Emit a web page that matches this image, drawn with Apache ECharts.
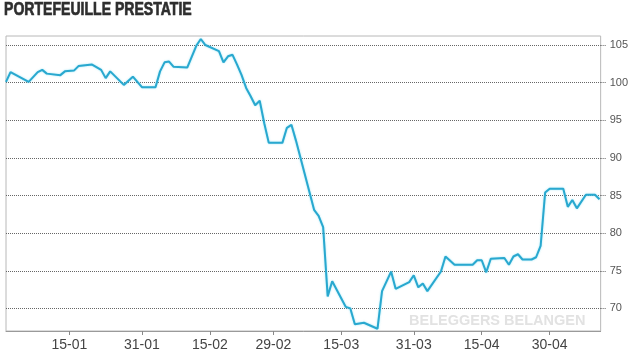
<!DOCTYPE html>
<html>
<head>
    <meta charset="utf-8">
    <title>Portefeuille prestatie</title>
    <script src="https://cdn.jsdelivr.net/npm/echarts@6/dist/echarts.min.js"></script>
    <style type="text/css">
        body{
            margin: 0;
            background: #fff;
        }
        #main{
            width: 631px;
            height: 355px;
        }
    </style>
</head>
<body>
<div id="main"></div>
<script>
    // turning points of the line
    var dates = [
        '2020-01-01','2020-01-02','2020-01-06','2020-01-08','2020-01-09','2020-01-10','2020-01-13','2020-01-14',
        '2020-01-16','2020-01-17','2020-01-20','2020-01-22','2020-01-23','2020-01-24','2020-01-27','2020-01-29',
        '2020-01-31','2020-02-03','2020-02-04','2020-02-05','2020-02-06','2020-02-07','2020-02-10','2020-02-12',
        '2020-02-13','2020-02-14','2020-02-17','2020-02-18','2020-02-19','2020-02-20','2020-02-21','2020-02-22',
        '2020-02-23','2020-02-24','2020-02-25','2020-02-26','2020-02-27','2020-02-28','2020-03-02','2020-03-03',
        '2020-03-04','2020-03-05','2020-03-09','2020-03-10','2020-03-11','2020-03-12','2020-03-13','2020-03-16',
        '2020-03-17','2020-03-18','2020-03-20','2020-03-23','2020-03-24','2020-03-26','2020-03-27','2020-03-30',
        '2020-03-31','2020-04-01','2020-04-02','2020-04-03','2020-04-06','2020-04-07','2020-04-09','2020-04-13',
        '2020-04-14','2020-04-15','2020-04-16','2020-04-17','2020-04-20','2020-04-21','2020-04-22','2020-04-23',
        '2020-04-24','2020-04-26','2020-04-27','2020-04-28','2020-04-29','2020-04-30','2020-05-03','2020-05-04',
        '2020-05-05','2020-05-06','2020-05-08','2020-05-10','2020-05-11'
    ];
    var values = [
        100.1, 101.4, 100.1, 101.4, 101.7, 101.2, 101.0, 101.5,
        101.6, 102.2, 102.4, 101.7, 100.6, 101.5, 99.7, 100.8,
        99.4, 99.4, 101.5, 102.7, 102.8, 102.1, 102.0, 104.9,
        105.8, 105.0, 104.2, 102.7, 103.5, 103.7, 102.4, 101.0,
        99.3, 98.2, 97.0, 97.6, 94.6, 92.0, 92.0, 94.0,
        94.4, 92.3, 83.1, 82.3, 80.8, 71.6, 73.6, 70.2,
        70.0, 67.9, 68.1, 67.3, 72.3, 74.9, 72.6, 73.5,
        74.4, 72.8, 73.3, 72.3, 74.9, 76.9, 75.8, 75.8,
        76.4, 76.4, 74.8, 76.6, 76.7, 75.8, 76.9, 77.2,
        76.5, 76.5, 76.8, 78.3, 85.4, 85.9, 85.9, 83.5,
        84.4, 83.3, 85.1, 85.1, 84.5
    ];
    var tickDates = ['2020-01-15','2020-01-31','2020-02-15','2020-02-29','2020-03-15','2020-03-31','2020-04-15','2020-04-30'];
    var tickLabels = ['15-01','31-01','15-02','29-02','15-03','31-03','15-04','30-04'];
    var yTicks = [70, 75, 80, 85, 90, 95, 100, 105];

    var sans = '"Liberation Sans", Arial, sans-serif';
    function toTime(s) {
        return +echarts.time.parse(s);
    }
    var tickTimes = tickDates.map(toTime);

    var myChart = echarts.init(document.getElementById('main'));
    var option = {
        animation: false,
        graphic: [{
            // narrow heavy title: squeeze the bold face and thicken it a bit
            type: 'text',
            x: 4,
            y: 0,
            scaleX: 0.74,
            silent: true,
            style: {
                text: 'PORTEFEUILLE PRESTATIE',
                fontFamily: sans,
                fontWeight: 'bold',
                fontSize: 19,
                fill: '#2e2e2e',
                stroke: '#2e2e2e',
                lineWidth: 0.7,
                verticalAlign: 'top'
            }
        }, {
            type: 'text',
            x: 409,
            y: 313,
            silent: true,
            style: {
                text: 'BELEGGERS BELANGEN',
                fontFamily: sans,
                fontWeight: 'bold',
                fontSize: 14.5,
                fill: '#e2e2e2',
                verticalAlign: 'top'
            }
        }],
        grid: {
            left: 6,
            right: 28,
            top: 36,
            bottom: 24,
            show: true,
            borderColor: '#b8b8b8',
            borderWidth: 1
        },
        xAxis: {
            type: 'value',
            min: toTime('2020-01-01'),
            max: toTime('2020-05-11 06:00'),
            axisLine: {lineStyle: {color: '#9a9a9a'}},
            axisTick: {
                customValues: tickTimes,
                length: 4,
                lineStyle: {color: '#888'}
            },
            axisLabel: {
                customValues: tickTimes,
                margin: 7,
                fontFamily: sans,
                fontSize: 14,
                color: '#444',
                formatter: function (v) {
                    var i = tickTimes.indexOf(v);
                    return i >= 0 ? tickLabels[i] : '';
                }
            },
            splitLine: {show: false}
        },
        yAxis: {
            type: 'value',
            position: 'right',
            min: 67,
            max: 106.2,
            axisLine: {show: false},
            axisTick: {
                show: true,
                customValues: yTicks,
                length: 5,
                lineStyle: {type: 'dotted', color: '#666'}
            },
            axisLabel: {
                customValues: yTicks,
                margin: 9,
                fontFamily: sans,
                fontSize: 11,
                color: '#555'
            },
            splitLine: {
                show: true,
                lineStyle: {type: 'dotted', color: '#666', width: 1}
            }
        },
        series: [{
            type: 'line',
            data: dates.map(function (d, i) { return [toTime(d), values[i]]; }),
            showSymbol: false,
            symbol: 'none',
            lineStyle: {
                color: '#29a8cf',
                width: 2,
                shadowColor: 'rgba(110,215,240,0.7)',
                shadowBlur: 2
            }
        }]
    };
    myChart.setOption(option);
</script>
</body>
</html>
